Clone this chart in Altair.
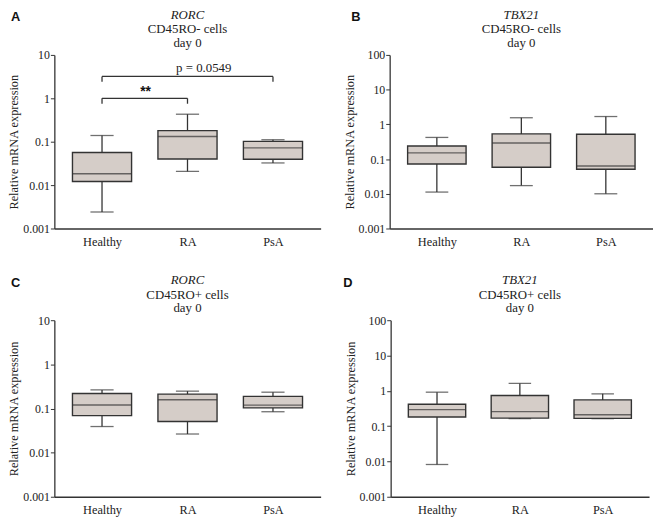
import altair as alt
import pandas as pd

categories = ["Healthy", "RA", "PsA"]

# Panel A: RORC, CD45RO- cells, day 0
a_min = [0.0024, 0.0207, 0.0324]
a_q1 = [0.0121, 0.040, 0.0394]
a_med = [0.0183, 0.132, 0.072]
a_q3 = [0.0565, 0.18, 0.102]
a_max = [0.139, 0.43, 0.111]

# Panel B: TBX21, CD45RO- cells, day 0
b_min = [0.0112, 0.0172, 0.0100]
b_q1 = [0.072, 0.058, 0.051]
b_med = [0.151, 0.29, 0.063]
b_q3 = [0.238, 0.53, 0.52]
b_max = [0.42, 1.55, 1.68]

# Panel C: RORC, CD45RO+ cells, day 0
c_min = [0.039, 0.0264, 0.0844]
c_q1 = [0.0687, 0.0506, 0.103]
c_med = [0.120, 0.158, 0.119]
c_q3 = [0.219, 0.212, 0.188]
c_max = [0.264, 0.247, 0.234]

# Panel D: TBX21, CD45RO+ cells, day 0
d_min = [0.0082, 0.163, 0.163]
d_q1 = [0.181, 0.169, 0.166]
d_med = [0.293, 0.257, 0.211]
d_q3 = [0.416, 0.735, 0.553]
d_max = [0.916, 1.62, 0.82]

# Significance brackets in panel A
brk_from = [0, 0]
brk_to = [1, 2]
brk_level = [1.0, 3.2]
brk_foot = [0.75, 2.4]
brk_label = ["**", "p = 0.0549"]
brk_label_x = [0.51, 1.19]
brk_label_y = [1.42, 5.0]

SERIF = "Liberation Serif"
INK = "#222222"
EDGE = "#333333"
FILL = "#d5cdc8"


def panel(letter, gene, cells, mins, q1s, meds, q3s, maxs, ymax, letter_x, w, h,
          brackets=False):
    df = pd.DataFrame({
        "idx": list(range(len(categories))),
        "cat": categories,
        "lo": mins, "q1": q1s, "med": meds, "q3": q3s, "hi": maxs,
    })
    ticks = [10.0 ** k for k in range(-3, 3) if 10.0 ** k <= ymax]
    label_expr = "[" + ",".join("'" + c + "'" for c in categories) + "][datum.value]"
    xs = alt.Scale(domain=[-0.5, len(categories) - 0.5], nice=False, zero=False)
    ys = alt.Scale(type="log", domain=[0.001, ymax], nice=False)
    xax = alt.Axis(values=list(range(len(categories))), labelExpr=label_expr, tickSize=0,
                   labelFontSize=12.5, labelPadding=7, title=None, grid=False,
                   domainWidth=1.3, domainColor=EDGE, labelFont=SERIF, labelColor=INK)
    yax = alt.Axis(values=ticks, format="~g", title="Relative mRNA expression",
                   titleFont=SERIF, titleFontSize=12.5, titleFontWeight="normal",
                   titleColor=INK, labelFont=SERIF, labelFontSize=12, labelColor=INK,
                   tickSize=4, tickColor=EDGE, domainColor=EDGE, domainWidth=1.3,
                   labelPadding=1, titlePadding=2, grid=False)
    box_w = w * 0.222
    cap_w = w * 0.087
    X = alt.X("idx:Q", scale=xs, axis=xax)
    base = alt.Chart(df)
    whisk = base.mark_rule(color=EDGE, strokeWidth=1.3).encode(
        x=X, y=alt.Y("lo:Q", scale=ys, axis=yax), y2="hi:Q")
    box = base.mark_bar(size=box_w, fill=FILL, stroke=EDGE, strokeWidth=1.4).encode(
        x=X, y=alt.Y("q1:Q", scale=ys), y2="q3:Q")
    med = base.mark_tick(orient="horizontal", size=box_w, thickness=1.4, color=EDGE).encode(
        x=X, y=alt.Y("med:Q", scale=ys))
    cap_lo = base.mark_tick(orient="horizontal", size=cap_w, thickness=1.3, color=EDGE).encode(
        x=X, y=alt.Y("lo:Q", scale=ys))
    cap_hi = base.mark_tick(orient="horizontal", size=cap_w, thickness=1.3, color=EDGE).encode(
        x=X, y=alt.Y("hi:Q", scale=ys))
    let = alt.Chart(pd.DataFrame({"t": [letter]})).mark_text(
        font="Liberation Sans", fontWeight="bold", fontSize=13, align="left",
        baseline="middle", color="#111").encode(
        text="t:N", x=alt.value(letter_x), y=alt.value(-38))
    layers = [whisk, box, med, cap_lo, cap_hi, let]
    if brackets:
        hb = pd.DataFrame({"x0": brk_from, "x1": brk_to, "lv": brk_level})
        vb = pd.DataFrame({
            "x": brk_from + brk_to,
            "foot": brk_foot + brk_foot,
            "lv": brk_level + brk_level,
        })
        tb = pd.DataFrame({"x": brk_label_x, "y": brk_label_y, "t": brk_label})
        layers.append(alt.Chart(hb).mark_rule(color=EDGE, strokeWidth=1.3).encode(
            x=alt.X("x0:Q", scale=xs), x2="x1:Q", y=alt.Y("lv:Q", scale=ys)))
        layers.append(alt.Chart(vb).mark_rule(color=EDGE, strokeWidth=1.3).encode(
            x=alt.X("x:Q", scale=xs), y=alt.Y("foot:Q", scale=ys), y2="lv:Q"))
        layers.append(alt.Chart(tb).transform_filter("datum.t == '**'").mark_text(
            font="Liberation Sans", fontSize=14, fontWeight="bold", color="#111",
            baseline="middle").encode(
            x=alt.X("x:Q", scale=xs), y=alt.Y("y:Q", scale=ys), text="t:N"))
        layers.append(alt.Chart(tb).transform_filter("datum.t != '**'").mark_text(
            font=SERIF, fontSize=13, color=INK, baseline="middle").encode(
            x=alt.X("x:Q", scale=xs), y=alt.Y("y:Q", scale=ys), text="t:N"))
    title = alt.TitleParams(
        text=gene, subtitle=[cells, "day 0"], font=SERIF, fontSize=13, fontStyle="italic",
        fontWeight="normal", color=INK, subtitleFont=SERIF, subtitleFontSize=13,
        subtitleLineHeight=14, subtitleColor=INK, subtitlePadding=1.5, anchor="middle",
        frame="group", offset=-39)
    return alt.layer(*layers).properties(width=w, height=h, title=title)


pA = panel("A", "RORC", "CD45RO- cells", a_min, a_q1, a_med, a_q3, a_max, 10, -44, 270, 176, True)
pB = panel("B", "TBX21", "CD45RO- cells", b_min, b_q1, b_med, b_q3, b_max, 100, -39, 267, 176)
pC = panel("C", "RORC", "CD45RO+ cells", c_min, c_q1, c_med, c_q3, c_max, 10, -44, 270, 179)
pD = panel("D", "TBX21", "CD45RO+ cells", d_min, d_q1, d_med, d_q3, d_max, 100, -48, 262, 179)

chart = alt.vconcat(
    alt.hconcat(pA, pB, spacing=23),
    alt.hconcat(pC, pD, spacing=23),
    spacing=26,
).properties(padding={"top": -3, "left": 0, "right": 0, "bottom": 0}).configure_view(stroke=None)

chart.save("out.html", embed_options={"renderer": "svg", "actions": False})
